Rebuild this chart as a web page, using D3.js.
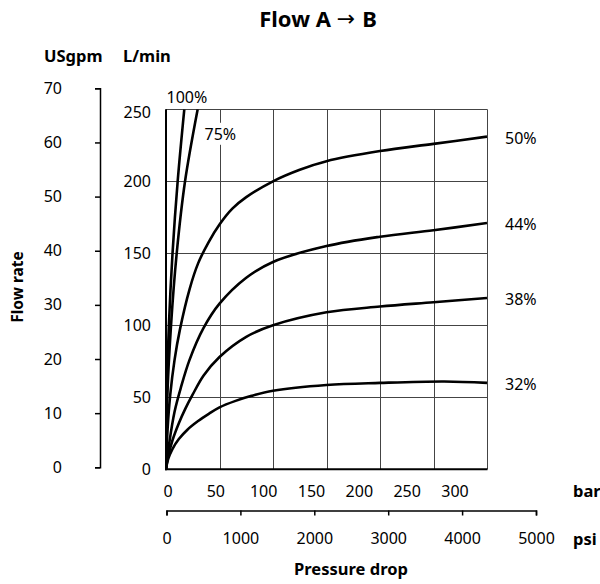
<!DOCTYPE html>
<html>
  <head>
    <meta charset="utf-8" />
    <title>Flow A to B</title>
    <script src="https://d3js.org/d3.v7.min.js"></script>
    <style>
        body { margin: 0; background: #fff; }
        svg text { font-family: "Noto Sans", "Open Sans", sans-serif; fill: #000; }
        .bold { font-weight: bold; }
        .grid line { stroke: #444; stroke-width: 1; }
        .curve { fill: none; stroke: #000; stroke-width: 2.6; }
    </style>
  </head>
  <body>
<svg width="600" height="584"></svg>

    <script type="text/javascript">
        // pressure drop (bar) vs flow (L/min)
        var bar100 = [0, 0.7, 2.7, 6.1, 10.9, 17.1];
        var flow100 = [0, 50, 100, 150, 200, 250];
        var bar75 = [0, 1.2, 4.7, 10, 17.8, 29.6];
        var flow75 = [0, 50, 100, 150, 200, 250];
        var bar50 = [0, 1.5, 4, 8, 13, 22, 30, 40, 50, 62, 75, 100, 125, 150, 200, 250, 300];
        var flow50 = [0, 28, 52, 76, 97, 125, 143, 158, 170, 181, 189, 200, 208, 214, 221, 226, 231];
        var bar44 = [0, 3, 8, 14, 22, 35, 50, 75, 100, 150, 200, 250, 300];
        var flow44 = [0, 18, 40, 57, 76, 98, 115, 133, 144, 155, 161.5, 166, 171];
        var bar38 = [0, 2, 6, 12, 18, 25, 35, 50, 75, 100, 150, 200, 250, 300];
        var flow38 = [0, 9, 20, 32, 42, 52, 65, 78, 92, 100, 109, 113, 116, 119];
        var bar32 = [0, 2, 6, 12, 20, 30, 40, 50, 65, 80, 100, 150, 200, 260, 300];
        var flow32 = [0, 7, 14, 21, 27.5, 33.5, 38.5, 43, 47.5, 51, 54.5, 58.5, 60, 61, 60];

        var barTicks = [0, 50, 100, 150, 200, 250, 300];
        var psiTicks = [0, 1000, 2000, 3000, 4000, 5000];
        var lminTicks = [0, 50, 100, 150, 200, 250];
        var gpmTicks = [0, 10, 20, 30, 40, 50, 60, 70];

        var svg = d3.select("svg");
        var fs = 16;

        var x = d3.scaleLinear().domain([0, 300]).range([166, 487]);
        // the bar numbers in the original sit a little left of their grid lines
        var xLabel = d3.scaleLinear().domain([0, 300]).range([168, 455]);
        var y = d3.scaleLinear().domain([0, 250]).range([469.3, 109.3]);
        var yGpm = d3.scaleLinear().domain([0, 70]).range([467.3, 88.3]);
        var psi = d3.scaleLinear().domain([0, 5000]).range([166.5, 536]);

        // grid
        var grid = svg.append("g").attr("class", "grid");
        grid.selectAll(".vl")
            .data(barTicks.slice(1))
          .enter().append("line")
            .attr("x1", function(d) { return Math.round(x(d)) + 0.5; })
            .attr("x2", function(d) { return Math.round(x(d)) + 0.5; })
            .attr("y1", y(250)).attr("y2", y(0));
        grid.selectAll(".hl")
            .data(lminTicks.slice(1))
          .enter().append("line")
            .attr("x1", x(0)).attr("x2", x(300))
            .attr("y1", function(d) { return Math.round(y(d)) + 0.5; })
            .attr("y2", function(d) { return Math.round(y(d)) + 0.5; });

        // curves
        var line = d3.line()
            .x(function(d) { return x(d[0]); })
            .y(function(d) { return y(d[1]); })
            .curve(d3.curveCatmullRom.alpha(0.5));

        svg.append("clipPath").attr("id", "plot")
          .append("rect")
            .attr("x", x(0)).attr("y", y(250))
            .attr("width", x(300) - x(0)).attr("height", y(0) - y(250));

        var series = [[bar100, flow100], [bar75, flow75], [bar50, flow50],
                      [bar44, flow44], [bar38, flow38], [bar32, flow32]];
        svg.append("g").attr("clip-path", "url(#plot)")
          .selectAll("path")
            .data(series)
          .enter().append("path")
            .attr("class", "curve")
            .attr("d", function(s) { return line(d3.zip(s[0], s[1])); });

        // plot axes (left + bottom heavier)
        svg.append("line").attr("x1", x(0)).attr("x2", x(0))
            .attr("y1", y(250)).attr("y2", y(0) + 1)
            .attr("stroke", "#000").attr("stroke-width", 2);
        svg.append("line").attr("x1", x(0) - 1).attr("x2", x(300) + 0.5)
            .attr("y1", y(0)).attr("y2", y(0))
            .attr("stroke", "#000").attr("stroke-width", 2);

        // curve labels
        svg.append("text").attr("x", x(0.5)).attr("y", y(250) - 12)
            .attr("dominant-baseline", "central").attr("font-size", fs).text("100%");
        var lab75 = svg.append("text").attr("x", x(36)).attr("y", y(233))
            .attr("dominant-baseline", "central").attr("font-size", fs).text("75%");
        var bb = lab75.node().getBBox();
        svg.insert("rect", "text").attr("x", bb.x - 1).attr("y", bb.y)
            .attr("width", bb.width + 2).attr("height", bb.height).attr("fill", "#fff");

        var rightLabels = [["50%", flow50], ["44%", flow44], ["38%", flow38], ["32%", flow32]];
        svg.selectAll(".rl")
            .data(rightLabels)
          .enter().append("text")
            .attr("x", x(300) + 18)
            .attr("y", function(d) { return y(d[1][d[1].length - 1]) + 1; })
            .attr("dominant-baseline", "central")
            .attr("font-size", fs)
            .text(function(d) { return d[0]; });

        // L/min labels
        svg.selectAll(".lm")
            .data(lminTicks)
          .enter().append("text")
            .attr("x", 151)
            .attr("y", function(d) { return y(d) + (d == 250 ? 3 : 0); })
            .attr("text-anchor", "end")
            .attr("dominant-baseline", "central")
            .attr("font-size", fs)
            .text(function(d) { return d; });

        // USgpm axis
        var gg = svg.append("g").attr("transform", "translate(100,0)")
            .call(d3.axisLeft(yGpm).tickValues(gpmTicks).tickSize(5).tickPadding(33).tickSizeOuter(5));
        gg.select(".domain").attr("stroke-width", 1.5);
        gg.selectAll(".tick line").attr("stroke-width", 1.5);
        gg.selectAll(".tick text").attr("font-size", fs)
            .attr("font-family", "Noto Sans, Open Sans, sans-serif");

        // bar labels
        svg.selectAll(".bl")
            .data(barTicks)
          .enter().append("text")
            .attr("x", function(d) { return xLabel(d); })
            .attr("y", 491)
            .attr("text-anchor", "middle")
            .attr("dominant-baseline", "central")
            .attr("font-size", fs)
            .text(function(d) { return d; });

        // psi axis
        var pg = svg.append("g").attr("transform", "translate(0,510.5)")
            .call(d3.axisBottom(psi).tickValues(psiTicks).tickFormat(d3.format("d"))
                .tickSize(5).tickSizeOuter(5).tickPadding(17));
        pg.select(".domain").attr("stroke-width", 1.5);
        pg.selectAll(".tick line").attr("stroke-width", 1.5);
        pg.selectAll(".tick text").attr("font-size", fs)
            .attr("font-family", "Noto Sans, Open Sans, sans-serif");

        // titles
        var t = svg.append("text").attr("x", 318).attr("y", 18)
            .attr("text-anchor", "middle").attr("dominant-baseline", "central")
            .attr("font-size", 22);
        t.append("tspan").attr("class", "bold").text("Flow A ");
        t.append("tspan").attr("font-family", "DejaVu Sans").attr("font-size", 22).text(" \u2192 ");
        t.append("tspan").attr("class", "bold").text("B");

        svg.append("text").attr("class", "bold").attr("x", 44).attr("y", 55)
            .attr("dominant-baseline", "central").attr("font-size", 16.5).text("USgpm");
        svg.append("text").attr("class", "bold").attr("x", 123).attr("y", 55)
            .attr("dominant-baseline", "central").attr("font-size", 16.5).text("L/min");
        svg.append("text").attr("class", "bold").attr("x", 573).attr("y", 490)
            .attr("dominant-baseline", "central").attr("font-size", 16.5).text("bar");
        svg.append("text").attr("class", "bold").attr("x", 573).attr("y", 538)
            .attr("dominant-baseline", "central").attr("font-size", 16.5).text("psi");
        svg.append("text").attr("class", "bold").attr("x", 351).attr("y", 568)
            .attr("text-anchor", "middle").attr("dominant-baseline", "central")
            .attr("font-size", 16.5).text("Pressure drop");
        svg.append("text").attr("class", "bold")
            .attr("transform", "translate(17,287) rotate(-90)")
            .attr("text-anchor", "middle").attr("dominant-baseline", "central")
            .attr("font-size", 15.5).text("Flow rate");
    </script>
  </body>
</html>
